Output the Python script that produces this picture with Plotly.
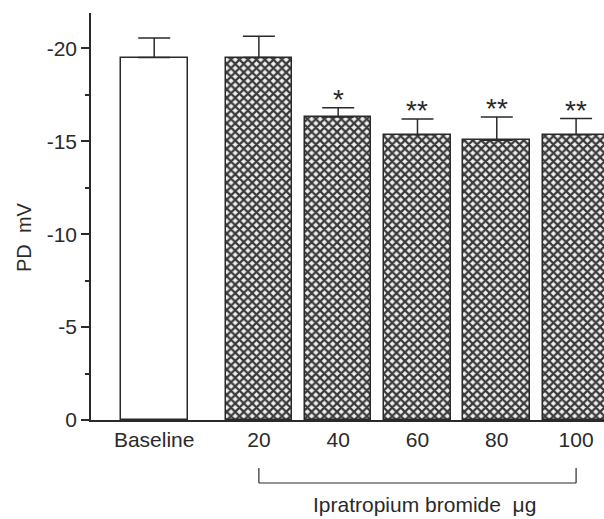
import plotly.graph_objects as go

categories = ["Baseline", "20", "40", "60", "80", "100"]
pd_values = [-19.5, -19.5, -16.3, -15.35, -15.05, -15.35]
pd_errors = [1.05, 1.15, 0.5, 0.85, 1.25, 0.87]
significance = ["", "", "*", "**", "**", "**"]
y_tickvals = [0, -5, -10, -15, -20]
y_ticktext = ["0", "-5", "-10", "-15", "-20"]
y_minor = [-2.5, -7.5, -12.5, -17.5]

GAP = 1.32
xpos = [0] + [GAP + i for i in range(len(categories) - 1)]
FONT = "Liberation Sans, Arial, sans-serif"
INK = "#2a2a2a"
BW = 0.84
FS = 21
L, T, B, W, H = 91, 13, 99, 604, 519

fig = go.Figure()
fig.add_trace(go.Bar(
    x=xpos[:1], y=pd_values[:1], width=BW,
    marker=dict(color="white", line=dict(color=INK, width=1.5)),
    error_y=dict(type="data", symmetric=False, array=[0], arrayminus=pd_errors[:1],
                 color=INK, thickness=1.5, width=16),
))
fig.add_trace(go.Bar(
    x=xpos[1:], y=pd_values[1:], width=BW,
    marker=dict(color="#b0b0b0", line=dict(color=INK, width=1.5),
                pattern=dict(shape="x", size=6, solidity=0.6,
                             fgcolor="#3a3a3a", bgcolor="#f0f0f0", fillmode="replace")),
    error_y=dict(type="data", symmetric=False, array=[0] * 5, arrayminus=pd_errors[1:],
                 color=INK, thickness=1.5, width=16),
))

for xp, v, e, s in zip(xpos, pd_values, pd_errors, significance):
    if s:
        fig.add_annotation(x=xp, y=v - e, text=s, showarrow=False, yanchor="bottom",
                           yshift=-9, font=dict(family=FONT, size=28, color=INK))

ph = H - T - B
def py(pix):
    return 1 - (pix - T) / ph

# bracket under dose groups
x0, x1 = xpos[1], xpos[-1]
for xa, xb, ya, yb in [(x0, x0, py(468), py(483)), (x1, x1, py(468), py(483)),
                       (x0, x1, py(483), py(483))]:
    fig.add_shape(type="line", xref="x", yref="paper", x0=xa, x1=xb, y0=ya, y1=yb,
                  line=dict(color=INK, width=1.2))
fig.add_annotation(x=(x0 + x1) / 2, xref="x", y=py(504), yref="paper", xshift=7,
                   yanchor="middle",
                   text="Ipratropium bromide\u00a0\u00a0\u03bcg", showarrow=False,
                   font=dict(family=FONT, size=FS, color=INK))
fig.add_annotation(x=(24 - L) / (W - L), xref="paper", xanchor="center",
                   y=py(237), yref="paper", yanchor="middle",
                   text="PD\u00a0\u00a0mV", textangle=-90, showarrow=False,
                   font=dict(family=FONT, size=FS - 1, color=INK))

fig.update_layout(
    width=W, height=H,
    margin=dict(l=L, r=0, t=T, b=B, autoexpand=False),
    paper_bgcolor="white", plot_bgcolor="white",
    showlegend=False, bargap=0,
    font=dict(family=FONT, size=FS, color=INK),
)

fig.update_xaxes(range=[-0.797, 5.672], tickvals=xpos, ticktext=categories,
                 showline=True, linecolor=INK, linewidth=1.5, ticks="",
                 showgrid=False, zeroline=False, tickfont=dict(size=FS), automargin=False)
fig.update_yaxes(range=[0, -21.9], tickvals=y_tickvals, ticktext=y_ticktext,
                 showline=True, linecolor=INK, linewidth=1.5, ticks="outside",
                 ticklen=8, tickwidth=1.5, tickcolor=INK, showgrid=False, zeroline=False,
                 tickfont=dict(size=FS), automargin=False,
                 minor=dict(tickvals=y_minor, ticks="outside", ticklen=4, tickwidth=1.5,
                            tickcolor=INK, showgrid=False))

fig.write_html("out.html", config={"displayModeBar": False},
               post_script="document.body.style.margin='0';")
